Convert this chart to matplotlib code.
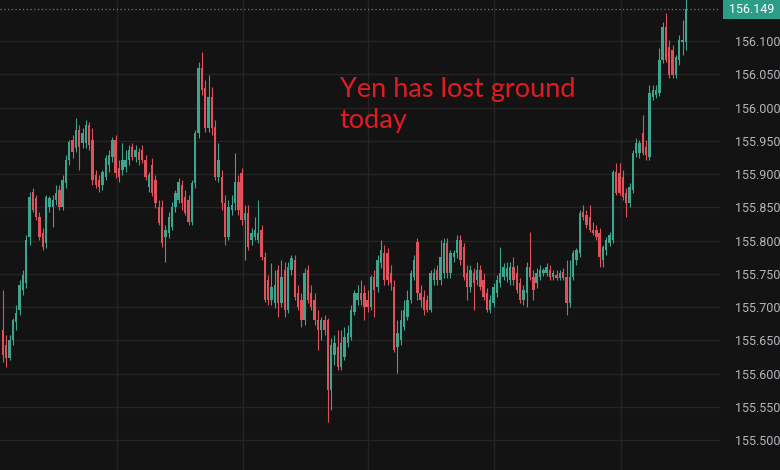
import numpy as np
import matplotlib
matplotlib.use("Agg")
import matplotlib.pyplot as plt
from matplotlib.patches import Rectangle

# USD/JPY intraday candles
opens = [
	155.666, 155.643, 155.624, 155.651, 155.678, 155.696, 155.726, 155.736, 155.806, 155.873,
	155.864, 155.836, 155.812, 155.797, 155.851, 155.851, 155.861, 155.876, 155.851, 155.887,
	155.921, 155.951, 155.939, 155.966, 155.947, 155.947, 155.974, 155.951, 155.899, 155.891,
	155.884, 155.896, 155.914, 155.926, 155.951, 155.909, 155.906, 155.911, 155.921, 155.941,
	155.926, 155.933, 155.936, 155.921, 155.881, 155.914, 155.891, 155.851, 155.851, 155.806,
	155.812, 155.821, 155.851, 155.861, 155.884, 155.866, 155.861, 155.828, 155.887, 155.962,
	156.060, 156.030, 155.970, 156.016, 155.971, 155.896, 155.896, 155.857, 155.806, 155.846,
	155.857, 155.888, 155.902, 155.831, 155.842, 155.801, 155.806, 155.801, 155.816, 155.775,
	155.741, 155.711, 155.706, 155.756, 155.706, 155.756, 155.696, 155.756, 155.771, 155.721,
	155.711, 155.681, 155.756, 155.721, 155.711, 155.681, 155.666, 155.681, 155.681, 155.575,
	155.628, 155.640, 155.610, 155.625, 155.646, 155.655, 155.693, 155.711, 155.721, 155.721,
	155.711, 155.700, 155.745, 155.730, 155.766, 155.781, 155.781, 155.751, 155.730, 155.640,
	155.651, 155.670, 155.685, 155.711, 155.745, 155.798, 155.721, 155.715, 155.711, 155.696,
	155.741, 155.756, 155.741, 155.751, 155.797, 155.751, 155.775, 155.781, 155.801, 155.791,
	155.751, 155.730, 155.751, 155.741, 155.756, 155.741, 155.721, 155.696, 155.706, 155.721,
	155.736, 155.745, 155.745, 155.741, 155.760, 155.751, 155.736, 155.711, 155.721, 155.760,
	155.745, 155.736, 155.745, 155.751, 155.751, 155.756, 155.745, 155.748, 155.744, 155.753,
	155.745, 155.706, 155.745, 155.771, 155.781, 155.843, 155.839, 155.836, 155.816, 155.816,
	155.812, 155.771, 155.786, 155.797, 155.801, 155.903, 155.902, 155.896, 155.872, 155.857,
	155.876, 155.932, 155.932, 155.962, 155.941, 155.926, 156.016, 156.019, 156.022, 156.072,
	156.121, 156.091, 156.087, 156.049, 156.072, 156.099, 156.099,
]
highs = [
	155.726, 155.658, 155.658, 155.683, 155.703, 155.741, 155.756, 155.809, 155.873, 155.879,
	155.869, 155.843, 155.819, 155.869, 155.867, 155.869, 155.884, 155.884, 155.899, 155.929,
	155.951, 155.959, 155.985, 155.974, 155.970, 155.982, 155.979, 155.970, 155.906, 155.899,
	155.906, 155.929, 155.936, 155.956, 155.959, 155.921, 155.947, 155.936, 155.944, 155.947,
	155.944, 155.939, 155.944, 155.929, 155.903, 155.924, 155.899, 155.861, 155.861, 155.824,
	155.843, 155.858, 155.876, 155.894, 155.891, 155.876, 155.869, 155.891, 155.966, 156.069,
	156.084, 156.042, 156.049, 156.031, 155.982, 155.947, 155.906, 155.869, 155.861, 155.869,
	155.932, 155.899, 155.909, 155.854, 155.854, 155.819, 155.836, 155.861, 155.824, 155.783,
	155.748, 155.766, 155.756, 155.763, 155.771, 155.768, 155.768, 155.779, 155.779, 155.733,
	155.721, 155.759, 155.763, 155.733, 155.721, 155.696, 155.685, 155.688, 155.683, 155.654,
	155.658, 155.666, 155.666, 155.670, 155.673, 155.703, 155.726, 155.733, 155.741, 155.733,
	155.726, 155.748, 155.756, 155.779, 155.801, 155.794, 155.789, 155.763, 155.741, 155.681,
	155.696, 155.711, 155.726, 155.756, 155.779, 155.804, 155.733, 155.726, 155.718, 155.756,
	155.759, 155.763, 155.801, 155.804, 155.804, 155.786, 155.786, 155.809, 155.809, 155.797,
	155.763, 155.763, 155.759, 155.768, 155.763, 155.751, 155.729, 155.718, 155.736, 155.748,
	155.791, 155.766, 155.768, 155.768, 155.775, 155.763, 155.744, 155.733, 155.768, 155.813,
	155.756, 155.759, 155.763, 155.759, 155.766, 155.763, 155.756, 155.756, 155.756, 155.759,
	155.771, 155.771, 155.786, 155.789, 155.846, 155.854, 155.846, 155.854, 155.828, 155.824,
	155.819, 155.794, 155.806, 155.813, 155.906, 155.917, 155.917, 155.906, 155.879, 155.887,
	155.936, 155.954, 155.951, 155.989, 155.951, 156.034, 156.034, 156.034, 156.090, 156.129,
	156.142, 156.102, 156.094, 156.079, 156.109, 156.132, 156.175,
]
lows = [
	155.618, 155.610, 155.621, 155.643, 155.666, 155.688, 155.718, 155.729, 155.794, 155.843,
	155.831, 155.801, 155.786, 155.789, 155.843, 155.821, 155.854, 155.846, 155.846, 155.879,
	155.914, 155.924, 155.933, 155.906, 155.939, 155.939, 155.936, 155.884, 155.879, 155.873,
	155.876, 155.891, 155.903, 155.918, 155.894, 155.888, 155.899, 155.903, 155.914, 155.921,
	155.918, 155.914, 155.917, 155.891, 155.873, 155.867, 155.849, 155.824, 155.791, 155.768,
	155.804, 155.816, 155.843, 155.857, 155.846, 155.839, 155.824, 155.824, 155.879, 155.954,
	156.019, 155.963, 155.963, 155.959, 155.891, 155.888, 155.846, 155.794, 155.801, 155.839,
	155.846, 155.839, 155.824, 155.771, 155.786, 155.794, 155.801, 155.797, 155.771, 155.708,
	155.703, 155.703, 155.699, 155.685, 155.700, 155.685, 155.691, 155.748, 155.711, 155.696,
	155.670, 155.673, 155.706, 155.696, 155.673, 155.636, 155.651, 155.658, 155.527, 155.545,
	155.613, 155.606, 155.606, 155.621, 155.640, 155.651, 155.688, 155.703, 155.703, 155.681,
	155.693, 155.696, 155.685, 155.723, 155.759, 155.733, 155.733, 155.726, 155.633, 155.601,
	155.643, 155.666, 155.681, 155.706, 155.741, 155.711, 155.700, 155.688, 155.693, 155.693,
	155.733, 155.733, 155.733, 155.744, 155.744, 155.744, 155.768, 155.774, 155.763, 155.741,
	155.711, 155.723, 155.696, 155.733, 155.726, 155.711, 155.693, 155.691, 155.700, 155.715,
	155.730, 155.741, 155.738, 155.733, 155.733, 155.721, 155.706, 155.703, 155.700, 155.741,
	155.711, 155.729, 155.741, 155.747, 155.747, 155.741, 155.741, 155.741, 155.741, 155.741,
	155.688, 155.700, 155.741, 155.763, 155.775, 155.831, 155.819, 155.813, 155.809, 155.801,
	155.760, 155.760, 155.779, 155.792, 155.797, 155.869, 155.869, 155.861, 155.836, 155.851,
	155.872, 155.926, 155.924, 155.929, 155.921, 155.921, 156.012, 156.015, 156.018, 156.067,
	156.069, 156.045, 156.045, 156.045, 156.064, 156.079, 156.087,
]
closes = [
	155.628, 155.624, 155.651, 155.681, 155.691, 155.733, 155.748, 155.801, 155.866, 155.846,
	155.836, 155.806, 155.791, 155.866, 155.864, 155.861, 155.872, 155.851, 155.891, 155.921,
	155.948, 155.933, 155.966, 155.941, 155.962, 155.974, 155.944, 155.891, 155.884, 155.881,
	155.903, 155.924, 155.929, 155.951, 155.902, 155.896, 155.921, 155.921, 155.936, 155.926,
	155.936, 155.921, 155.921, 155.896, 155.899, 155.872, 155.857, 155.827, 155.797, 155.816,
	155.836, 155.851, 155.872, 155.888, 155.857, 155.842, 155.828, 155.887, 155.962, 156.060,
	156.027, 155.970, 156.016, 155.970, 155.896, 155.921, 155.857, 155.806, 155.851, 155.854,
	155.888, 155.846, 155.831, 155.842, 155.791, 155.812, 155.816, 155.812, 155.775, 155.711,
	155.711, 155.730, 155.733, 155.706, 155.745, 155.696, 155.760, 155.774, 155.715, 155.700,
	155.681, 155.751, 155.711, 155.700, 155.681, 155.666, 155.681, 155.666, 155.575, 155.643,
	155.646, 155.610, 155.646, 155.655, 155.661, 155.696, 155.721, 155.721, 155.711, 155.700,
	155.700, 155.745, 155.726, 155.771, 155.786, 155.741, 155.741, 155.736, 155.636, 155.661,
	155.681, 155.696, 155.711, 155.751, 155.771, 155.721, 155.711, 155.696, 155.696, 155.751,
	155.751, 155.741, 155.775, 155.797, 155.751, 155.781, 155.781, 155.801, 155.771, 155.745,
	155.730, 155.756, 155.736, 155.756, 155.730, 155.715, 155.696, 155.711, 155.730, 155.741,
	155.751, 155.760, 155.759, 155.760, 155.741, 155.726, 155.711, 155.726, 155.760, 155.745,
	155.726, 155.751, 155.756, 155.756, 155.760, 155.745, 155.751, 155.744, 155.751, 155.744,
	155.706, 155.745, 155.781, 155.786, 155.842, 155.836, 155.824, 155.816, 155.812, 155.806,
	155.775, 155.791, 155.801, 155.809, 155.903, 155.872, 155.872, 155.866, 155.857, 155.881,
	155.932, 155.947, 155.947, 155.932, 155.929, 156.022, 156.027, 156.027, 156.072, 156.121,
	156.072, 156.049, 156.049, 156.076, 156.102, 156.102, 156.149,
]

price_ticks = [155.5, 155.55, 155.6, 155.65, 155.7, 155.75, 155.8, 155.85, 155.9, 155.95, 156.0, 156.05, 156.1]
last_price = 156.149
note = "Yen has lost ground\ntoday"

BG = "#131313"
GRID = "#242424"
UP = "#3fa48e"
DOWN = "#e0525b"
LABEL = "#b4b6bc"

o = np.array(opens)
h = np.array(highs)
l = np.array(lows)
c = np.array(closes)
x = np.arange(len(c))
up = c >= o
colors = np.where(up, UP, DOWN)

fig = plt.figure(figsize=(7.8, 4.7), dpi=100, facecolor=BG)
ax = fig.add_axes([0, 0, 720 / 780, 1])
ax.set_facecolor(BG)

# time grid (vertical lines)
for gx in [34.4, 72.4, 110.1, 148.0, 186.4]:
	ax.axvline(gx, color=GRID, lw=1, zorder=0)
for gy in price_ticks:
	ax.axhline(gy, color=GRID, lw=1, zorder=0)

ax.vlines(x, l, h, colors=colors, lw=0.8, zorder=2)
body_bottom = np.minimum(o, c)
body_height = np.maximum(np.abs(c - o), 0.0012)
ax.bar(x, body_height, bottom=body_bottom, width=0.72, color=colors, lw=0, zorder=3)

ax.axhline(last_price, color="#4f8a7e", lw=0.9, ls=(0, (1, 2)), zorder=1)

ax.set_xlim(-0.9, 216.3)
ax.set_ylim(155.455, 156.162)
ax.yaxis.tick_right()
ax.set_yticks(price_ticks)
ax.set_yticklabels([f"{t:.3f}" for t in price_ticks], family="Roboto")
ax.tick_params(axis="y", length=0, pad=11, labelsize=9, labelcolor=LABEL)
ax.set_xticks([])
for s in ax.spines.values():
	s.set_visible(False)

ax.text(0.472, 1 - 77 / 470, note, transform=ax.transAxes, ha="left", va="top",
	color="#e11b22", fontsize=19.5, family="Lato", linespacing=1.3)

# last price tag on the right axis
fig.patches.append(Rectangle((723 / 780, 1 - 19 / 470), 57 / 780, 19 / 470,
	transform=fig.transFigure, facecolor="#2b9c86", edgecolor="none"))
fig.text(752 / 780, 1 - 9.5 / 470, f"{last_price:.3f}", ha="center", va="center",
	color="white", fontsize=9, family="Roboto")

fig.savefig("out.png", dpi=100, facecolor=BG)
